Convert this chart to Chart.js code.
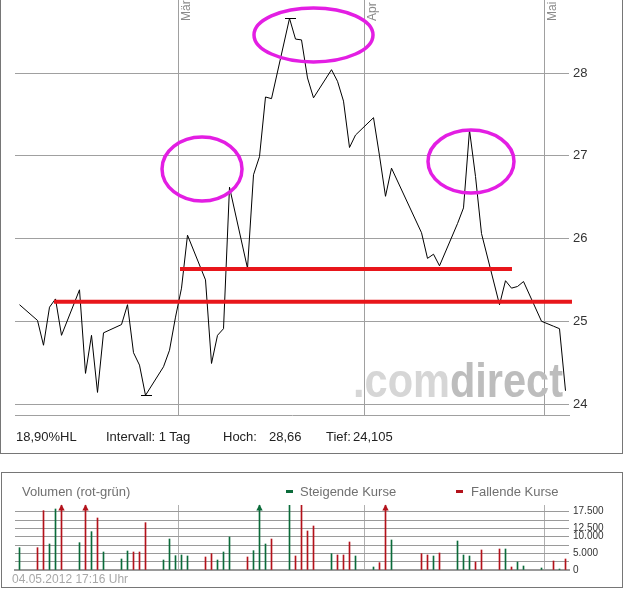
<!DOCTYPE html>
<html lang="de">
<head>
<meta charset="UTF-8">
<title>Kursverlauf mit Volumen</title>
<script src="https://cdn.jsdelivr.net/npm/chart.js"></script>
<style>
  body { margin: 0; background: #fff; font-family: "Liberation Sans", Arial, sans-serif; }
  #wrap { position: relative; width: 632px; height: 590px; overflow: hidden; }
  .box { position: absolute; border: 1px solid #767676; box-sizing: border-box; }
  .txt { position: absolute; white-space: nowrap; line-height: 16px; }
  .dash { position: absolute; width: 7px; height: 3px; }
  canvas { position: absolute; left: 0; }
</style>
</head>
<body>
<div id="wrap">
  <div class="box" style="left:0;top:-1px;width:623px;height:455px"></div>
  <canvas id="kurs" width="632" height="460" style="top:0"></canvas>
  <div class="txt" style="left:16px;top:429px;font-size:13px;color:#222">18,90%HL</div>
  <div class="txt" style="left:106px;top:429px;font-size:13px;color:#222">Intervall: 1 Tag</div>
  <div class="txt" style="left:223px;top:429px;font-size:13px;color:#222">Hoch:</div>
  <div class="txt" style="left:269px;top:429px;font-size:13px;color:#222">28,66</div>
  <div class="txt" style="left:326px;top:429px;font-size:13px;color:#222">Tief:</div>
  <div class="txt" style="left:353px;top:429px;font-size:13px;color:#222">24,105</div>

  <div class="box" style="left:1px;top:472px;width:622px;height:116px"></div>
  <canvas id="volumen" width="632" height="130" style="top:460px"></canvas>
  <div class="txt" style="left:22px;top:484px;font-size:13px;color:#707070">Volumen (rot-grün)</div>
  <div class="dash" style="left:286px;top:490px;background:#0b6b3a"></div>
  <div class="txt" style="left:300px;top:484px;font-size:13px;color:#707070">Steigende Kurse</div>
  <div class="dash" style="left:456px;top:490px;background:#b3121b"></div>
  <div class="txt" style="left:471px;top:484px;font-size:13px;color:#707070">Fallende Kurse</div>
  <div class="txt" style="left:12px;top:571px;font-size:12px;color:#a8a8a8">04.05.2012 17:16 Uhr</div>
</div>

<script>
// Handelstage (Xetra), Schlusskurse, Volumen
const tradeDates = [
  '2012-02-03','2012-02-06','2012-02-07','2012-02-08','2012-02-09','2012-02-10',
  '2012-02-13','2012-02-14','2012-02-15','2012-02-16','2012-02-17',
  '2012-02-20','2012-02-21','2012-02-22','2012-02-23','2012-02-24',
  '2012-02-27','2012-02-28','2012-02-29','2012-03-01','2012-03-02',
  '2012-03-05','2012-03-06','2012-03-07','2012-03-08','2012-03-09',
  '2012-03-12','2012-03-13','2012-03-14','2012-03-15','2012-03-16',
  '2012-03-19','2012-03-20','2012-03-21','2012-03-22','2012-03-23',
  '2012-03-26','2012-03-27','2012-03-28','2012-03-29','2012-03-30',
  '2012-04-02','2012-04-03','2012-04-04','2012-04-05',
  '2012-04-10','2012-04-11','2012-04-12','2012-04-13',
  '2012-04-16','2012-04-17','2012-04-18','2012-04-19','2012-04-20',
  '2012-04-23','2012-04-24','2012-04-25','2012-04-26','2012-04-27',
  '2012-04-30','2012-05-02','2012-05-03','2012-05-04'
];
const closes = [
  25.20, 25.01, 24.71, 25.17, 25.27, 24.83,
  25.38, 24.37, 24.83, 24.14, 24.86,
  24.96, 25.20, 24.62, 24.47, 24.105,
  24.45, 24.65, 25.05, 25.40, 26.04,
  25.50, 24.49, 24.83, 24.91, 26.62,
  25.64, 26.77, 26.99, 27.71, 27.69,
  28.66, 28.41, 28.40, 27.94, 27.70,
  28.04, 27.90, 27.66, 27.10, 27.25,
  27.46, 27.00, 26.51, 26.85,
  26.07, 25.76, 25.81, 25.67,
  26.18, 26.37, 27.31, 26.75, 26.06,
  25.20, 25.49, 25.40, 25.42, 25.48,
  25.00, 24.94, 24.91, 24.16
];
const volumes = [
  6700, 6700, 17800, 7800, 18300, 21000,
  8200, 21000, 11500, 15600, 5400,
  3300, 5700, 5400, 5400, 14200,
  3000, 9300, 4300, 4500, 4200,
  3900, 4900, 3000, 5400, 9900,
  3900, 5800, 21000, 7800, 9300,
  19400, 4200, 19400, 11700, 13200,
  4900, 4500, 4500, 8400, 4200,
  900, 2200, 21000, 9000,
  4900, 4500, 4200, 5100,
  8700, 4500, 4200, 2400, 6000,
  6300, 6300, 900, 2400, 1200,
  600, 2700, 300, 3300
];
// 1 = steigend (grün), 0 = fallend (rot)
const volUp = [
  1,0,0,1,1,0,
  1,0,1,0,1,
  1,1,0,0,0,
  1,1,1,1,1,
  0,0,1,1,1,
  0,1,1,1,0,
  1,0,0,0,0,
  1,0,0,0,1,
  1,0,0,1,
  0,0,1,0,
  1,1,1,0,0,
  0,1,0,1,1,
  1,0,1,0
];
const monthStarts = ['2012-03-01', '2012-04-01', '2012-05-01'];
const monthNames = ['Mär', 'Apr', 'Mai'];
const priceTicks = [24, 25, 26, 27, 28];
const volTicks = [0, 2500, 5000, 7500, 10000, 12500, 15000, 17500];
const volLabels = [0, 5000, 10000, 12500, 17500];

// eingezeichnete Linien und Kreise (Tag, Kurs)
const redLines = [
  { from: -21.25, to: 65.08, value: 25.235 },
  { from: -0.25, to: 55.08, value: 25.63 }
];
const circles = [
  { day: 3.42, value: 26.84, rx: 40, ry: 32 },
  { day: 22.0, value: 28.46, rx: 59.5, ry: 27 },
  { day: 48.25, value: 26.93, rx: 43, ry: 31.5 }
];

const GREEN = '#0b6b3a', RED = '#b3121b';
const FONT = '"Liberation Sans", Arial, sans-serif';
const xMin = -27.75, xMax = 64.583;
const yMin = 23.8671, yMax = 28.8822;
const volMax = 19500;

// Tage relativ zum 1. März 2012
function dayNo(s) {
  const p = s.split('-').map(Number);
  return (Date.UTC(p[0], p[1] - 1, p[2]) - Date.UTC(2012, 2, 1)) / 86400000;
}
const monthLines = monthStarts.map(s => dayNo(s) - 0.5);
const fmt = v => String(v).replace(/\B(?=(\d{3})+(?!\d))/g, '.');

// feste Achsenbreite, keine Zusatzpolster oben/unten
function fixY(s) {
  s.width = 63;
  s.paddingTop = 0;
  s.paddingBottom = 0;
}
function fixX(s) {
  s.height = 0;
  s.paddingLeft = 0;
  s.paddingRight = 0;
}

const kursDeko = {
  id: 'kursDeko',
  beforeDatasetsDraw(chart) {
    const { ctx, chartArea: a, scales: { x } } = chart;
    ctx.save();
    ctx.fillStyle = '#8a8a8a';
    ctx.font = '12px ' + FONT;
    ctx.textBaseline = 'top';
    monthLines.forEach((d, i) => {
      ctx.save();
      ctx.translate(x.getPixelForValue(d) + 2, a.top + 21);
      ctx.rotate(-Math.PI / 2);
      ctx.fillText(monthNames[i], 0, 0);
      ctx.restore();
    });
    // Wasserzeichen
    ctx.font = 'bold 49px ' + FONT;
    ctx.textBaseline = 'alphabetic';
    const w1 = ctx.measureText('.com').width, w2 = ctx.measureText('direct').width;
    const sx = 210 / (w1 + w2);
    ctx.translate(a.right - 6 - 210, a.bottom - 18);
    ctx.scale(sx, 1);
    ctx.fillStyle = '#d6d6d6';
    ctx.fillText('.com', 0, 0);
    ctx.fillStyle = '#bdbdbd';
    ctx.fillText('direct', w1, 0);
    ctx.restore();
  },
  afterDatasetsDraw(chart) {
    const { ctx, scales: { x, y } } = chart;
    ctx.save();
    // Hoch / Tief
    const hi = closes.indexOf(Math.max(...closes));
    const lo = closes.indexOf(Math.min(...closes));
    ctx.strokeStyle = '#000';
    ctx.lineWidth = 1;
    [hi, lo].forEach(i => {
      const px = Math.round(x.getPixelForValue(dayNo(tradeDates[i])));
      const py = Math.round(y.getPixelForValue(closes[i])) + 0.5;
      ctx.beginPath();
      ctx.moveTo(px - 5, py);
      ctx.lineTo(px + 6, py);
      ctx.stroke();
    });
    ctx.strokeStyle = '#e8161b';
    ctx.lineWidth = 4;
    redLines.forEach(l => {
      const py = y.getPixelForValue(l.value);
      ctx.beginPath();
      ctx.moveTo(x.getPixelForValue(l.from), py);
      ctx.lineTo(x.getPixelForValue(l.to), py);
      ctx.stroke();
    });
    ctx.strokeStyle = '#e31ee3';
    ctx.lineWidth = 3.5;
    circles.forEach(c => {
      ctx.beginPath();
      ctx.ellipse(x.getPixelForValue(c.day), y.getPixelForValue(c.value), c.rx, c.ry, 0, 0, Math.PI * 2);
      ctx.stroke();
    });
    ctx.restore();
  }
};

new Chart(document.getElementById('kurs'), {
  type: 'line',
  data: {
    datasets: [{
      data: tradeDates.map((t, i) => ({ x: dayNo(t), y: closes[i] })),
      borderColor: '#000',
      borderWidth: 1,
      pointRadius: 0,
      tension: 0,
      fill: false
    }]
  },
  options: {
    responsive: false,
    animation: false,
    events: [],
    layout: { padding: { left: 15, top: 0, right: 0, bottom: 45 } },
    plugins: { legend: { display: false }, tooltip: { enabled: false } },
    scales: {
      x: {
        type: 'linear', min: xMin, max: xMax, offset: false,
        afterBuildTicks: s => { s.ticks = monthLines.map(v => ({ value: v })); },
        afterFit: fixX,
        ticks: { display: false },
        grid: { color: '#a0a0a0', drawTicks: false },
        border: { display: true, color: '#a0a0a0' }
      },
      y: {
        position: 'right', min: yMin, max: yMax,
        afterBuildTicks: s => { s.ticks = priceTicks.map(v => ({ value: v })); },
        afterFit: fixY,
        ticks: { color: '#333', padding: 4, autoSkip: false, font: { size: 13, family: FONT } },
        grid: { color: '#a0a0a0', drawTicks: false },
        border: { display: false }
      }
    }
  },
  plugins: [kursDeko]
});

const pfeile = {
  id: 'pfeile',
  afterDatasetsDraw(chart) {
    const { ctx, chartArea: a } = chart;
    const meta = chart.getDatasetMeta(0);
    ctx.save();
    meta.data.forEach((bar, i) => {
      if (volumes[i] <= volMax) return;
      ctx.fillStyle = volUp[i] ? GREEN : RED;
      ctx.beginPath();
      ctx.moveTo(bar.x, a.top - 0.5);
      ctx.lineTo(bar.x - 3.2, a.top + 5.5);
      ctx.lineTo(bar.x + 3.2, a.top + 5.5);
      ctx.closePath();
      ctx.fill();
    });
    ctx.restore();
  }
};

new Chart(document.getElementById('volumen'), {
  type: 'bar',
  data: {
    datasets: [{
      data: tradeDates.map((t, i) => ({ x: dayNo(t), y: volumes[i] })),
      backgroundColor: volUp.map(u => u ? GREEN : RED),
      borderWidth: 0,
      barThickness: 1
    }]
  },
  options: {
    responsive: false,
    animation: false,
    events: [],
    layout: { padding: { left: 15, top: 45, right: 0, bottom: 20 } },
    plugins: { legend: { display: false }, tooltip: { enabled: false } },
    scales: {
      x: {
        type: 'linear', min: xMin, max: xMax, offset: false,
        afterBuildTicks: s => { s.ticks = monthLines.map(v => ({ value: v })); },
        afterFit: fixX,
        ticks: { display: false },
        grid: { color: '#b0b0b0', drawTicks: false, offset: false },
        border: { display: true, color: '#9a9a9a', width: 2 }
      },
      y: {
        position: 'right', min: 0, max: volMax,
        afterBuildTicks: s => { s.ticks = volTicks.map(v => ({ value: v })); },
        afterFit: fixY,
        ticks: {
          color: '#333', padding: 4, autoSkip: false, font: { size: 10, family: FONT },
          callback: v => volLabels.includes(v) ? fmt(v) : ''
        },
        grid: { color: '#9a9a9a', drawTicks: false },
        border: { display: false }
      }
    }
  },
  plugins: [pfeile]
});
</script>
</body>
</html>
